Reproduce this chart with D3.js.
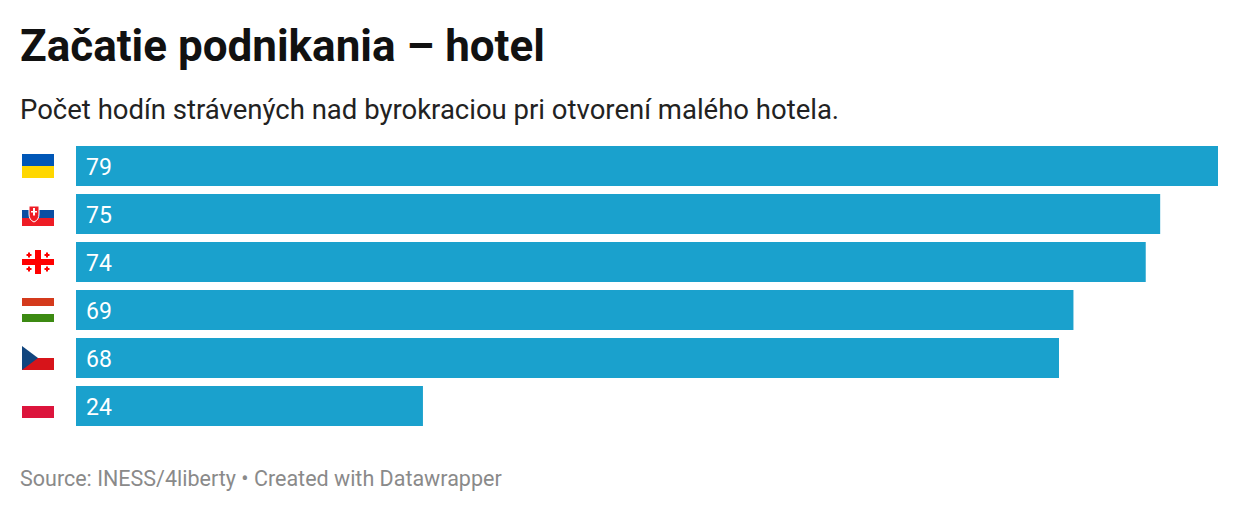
<!DOCTYPE html>
<html>
<head>
<meta charset="utf-8">
<style>
body { margin:0; background:#fff; font-family: Roboto, sans-serif; }
</style>
</head>
<body>
<script src="https://cdn.jsdelivr.net/npm/d3@7"></script>
<script>
var countries = ["ua", "sk", "ge", "hu", "cz", "pl"];
var values = [79, 75, 74, 69, 68, 24];

var svg = d3.select("body").append("svg").attr("width", 1240).attr("height", 512);

svg.append("text").attr("x", 20).attr("y", 61).text("Začatie podnikania – hotel")
  .style("font-size", "44px").style("font-weight", "700").attr("fill", "#111");
svg.append("text").attr("x", 20).attr("y", 119).text("Počet hodín strávených nad byrokraciou pri otvorení malého hotela.")
  .style("font-size", "27.5px").attr("fill", "#222");

var x = d3.scaleLinear().domain([0, 79]).range([76, 1218]);
var y = d3.scaleBand().domain(countries).range([146, 426]).paddingInner(8/48).paddingOuter(0);

var row = svg.selectAll("g.row").data(countries).enter().append("g")
  .attr("transform", function(d){ return "translate(0," + y(d) + ")"; });

row.append("rect").attr("x", x(0)).attr("y", 0)
  .attr("width", function(d, i){ return x(values[i]) - x(0); })
  .attr("height", y.bandwidth()).attr("fill", "#1aa1cd");

row.append("text").attr("x", x(0) + 10).attr("y", y.bandwidth()/2 + 8.5)
  .text(function(d, i){ return values[i]; })
  .style("font-size", "23px").attr("fill", "#fff");

// flags, 32x24
function flag(g, c) {
  var f = g.append("g").attr("transform", "translate(22," + (y.bandwidth()/2 - 12) + ")");
  function band(col, yy, h){ f.append("rect").attr("x",0).attr("y",yy).attr("width",32).attr("height",h).attr("fill",col); }
  if (c === "ua") { band("#0057b7",0,12); band("#ffd700",12,12); }
  if (c === "sk") { band("#fff",0,8); band("#0b4ea2",8,8); band("#ee1c25",16,8);
    f.append("path").attr("d","M7,4 h10 v8 q0,6 -5,8 q-5,-2 -5,-8z").attr("fill","#ee1c25").attr("stroke","#fff").attr("stroke-width",1);
    f.append("path").attr("d","M11,6 h2 v3 h2 v1.5 h-2 v3 h-2 v-3 h-2 v-1.5 h2z").attr("fill","#fff"); }
  if (c === "ge") { f.append("rect").attr("x",13).attr("y",0).attr("width",6).attr("height",24).attr("fill","#ff0000");
    f.append("rect").attr("x",0).attr("y",9).attr("width",32).attr("height",6).attr("fill","#ff0000");
    [[7,5],[25,5],[7,19],[25,19]].forEach(function(p){
      f.append("rect").attr("x",p[0]-2.5).attr("y",p[1]-1).attr("width",5).attr("height",2).attr("fill","#ff0000");
      f.append("rect").attr("x",p[0]-1).attr("y",p[1]-2.5).attr("width",2).attr("height",5).attr("fill","#ff0000"); }); }
  if (c === "hu") { band("#d43a1c",0,8); band("#fff",8,8); band("#3c8a12",16,8); }
  if (c === "cz") { band("#fff",0,12); band("#d7141a",12,12);
    f.append("path").attr("d","M0,0 L16,12 L0,24z").attr("fill","#11457e"); }
  if (c === "pl") { band("#fff",0,12); band("#dc143c",12,12); }
}
row.each(function(d){ flag(d3.select(this), d); });

svg.append("text").attr("x", 20).attr("y", 486).text("Source: INESS/4liberty • Created with Datawrapper")
  .style("font-size", "21.5px").attr("fill", "#8a8a8a");
</script>
</body>
</html>
